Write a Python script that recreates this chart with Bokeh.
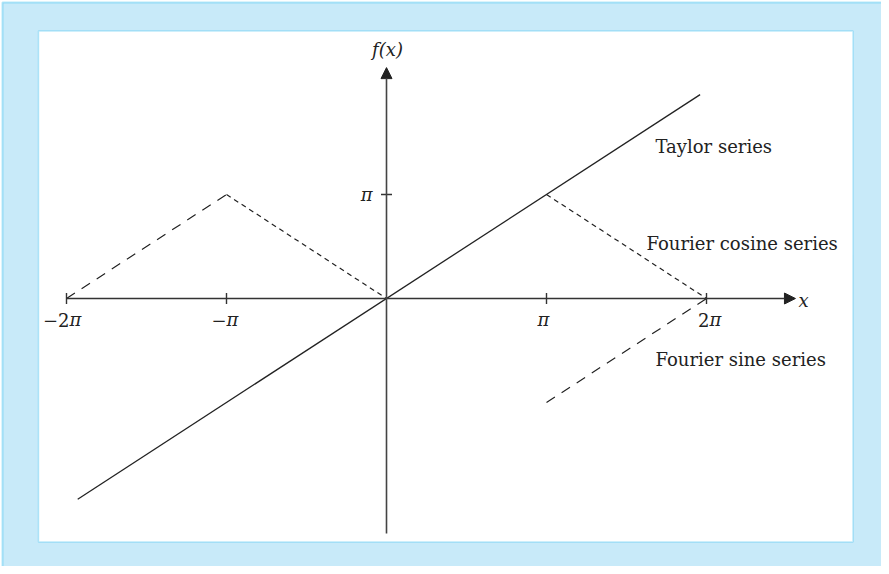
import numpy as np
from bokeh.plotting import figure
from bokeh.models import Range1d, BoxAnnotation, Label, Arrow, NormalHead
from bokeh.embed import file_html
from bokeh.resources import INLINE

PI = np.pi

# ---- data (in multiples of pi) ----
taylor_x = [-1.93, 1.96]
taylor_y = [-1.93, 1.96]
cosine_left_x = [-1.0, 0.0]
cosine_left_y = [1.0, 0.0]
cosine_right_x = [1.0, 2.0]
cosine_right_y = [1.0, 0.0]
sine_left_x = [-2.0, -1.0]
sine_left_y = [0.0, 1.0]
sine_right_x = [1.0, 2.0]
sine_right_y = [-1.0, 0.0]
xtick_vals = [-2.0, -1.0, 1.0, 2.0]
xtick_prefix = ["\u22122", "\u2212", "", "2"]
ytick_vals = [1.0]
axis_x = [-2.0, 2.556]
axis_y = [-2.26, 2.22]

# ---- geometry ----
W, H = 881, 566
OX, OY = 394.0, 306.0        # page position of origin
SX, SY = 160.0, 104.0        # pixels per pi

def dx(px):
    return (px - OX) / SX * PI

def dy(py):
    return (OY - py) / SY * PI

p = figure(width=W, height=H, output_backend="svg", toolbar_location=None,
           x_axis_location=None, y_axis_location=None, min_border=0,
           x_range=Range1d(dx(8), dx(8 + W)), y_range=Range1d(dy(8 + H), dy(8)))
p.grid.visible = False
p.outline_line_color = None
p.background_fill_color = "white"
p.border_fill_color = "white"

BAND = "#c8eaf9"
CYAN = "#12b2ec"
INK = "#222222"

outer = BoxAnnotation(left=dx(10), right=dx(920), top=dy(10), bottom=dy(600),
                      fill_color=BAND, fill_alpha=1, line_color=CYAN, line_width=2,
                      level="underlay")
inner = BoxAnnotation(left=dx(46), right=dx(860.5), top=dy(38.5), bottom=dy(549.5),
                      fill_color="white", fill_alpha=1, line_color="#2cb8ee", line_width=1.5,
                      level="underlay")
p.add_layout(outer)
p.add_layout(inner)

def s(v):
    return [a * PI for a in v]

# axes with arrows
p.add_layout(Arrow(end=NormalHead(size=11, fill_color=INK, line_color=INK, line_width=1),
                   x_start=axis_x[0] * PI, y_start=0, x_end=axis_x[1] * PI, y_end=0,
                   line_color="#333333", line_width=1.5))
p.add_layout(Arrow(end=NormalHead(size=11, fill_color=INK, line_color=INK, line_width=1),
                   x_start=0, y_start=axis_y[0] * PI, x_end=0, y_end=axis_y[1] * PI,
                   line_color="#444444", line_width=1.6))

# ticks
p.scatter(s(xtick_vals), [0] * len(xtick_vals), marker="dash", angle=PI / 2, size=11,
          line_color="#333333", line_width=1.4)
p.scatter([0] * len(ytick_vals), s(ytick_vals), marker="dash", size=11,
          line_color="#333333", line_width=1.4)

# series
p.line(s(taylor_x), s(taylor_y), line_color=INK, line_width=1.3)
p.line(s(cosine_left_x), s(cosine_left_y), line_color=INK, line_width=1.2, line_dash="5 4")
p.line(s(cosine_right_x), s(cosine_right_y), line_color=INK, line_width=1.2, line_dash="5 4")
p.line(s(sine_left_x), s(sine_left_y), line_color=INK, line_width=1.2, line_dash="10 8")
p.line(s(sine_right_x), s(sine_right_y), line_color=INK, line_width=1.2, line_dash="10 8")

SERIF = "DejaVu Serif"
FS = "18px"

def lab(x, y, t, align="left", style="normal", size=FS):
    p.add_layout(Label(x=x, y=y, text=t, text_font=SERIF, text_font_size=size,
                       text_font_style=style, text_align=align, text_baseline="middle",
                       text_color=INK))

# x tick labels
split_off = {-2.0: 3, -1.0: 0, 1.0: None, 2.0: 3}
for v, pre in zip(xtick_vals, xtick_prefix):
    tx = OX + v * SX
    if pre == "":
        lab(dx(tx - 3), dy(327), "\u03c0", align="center", style="italic")
    else:
        sp = tx + split_off[v]
        lab(dx(sp), dy(327), pre, align="right")
        lab(dx(sp), dy(327), "\u03c0", align="left", style="italic")

# y tick label
for v in ytick_vals:
    lab(dx(380), dy(OY - v * SY), "\u03c0", align="right", style="italic")

# axis labels
lab(dx(395), dy(57), "f(x)", align="center", style="italic")
lab(dx(806), dy(308), "x", align="left", style="italic")

# series labels
lab(dx(663), dy(154), "Taylor series")
lab(dx(654), dy(251), "Fourier cosine series")
lab(dx(663), dy(367), "Fourier sine series")

open("out.html", "w").write(file_html(p, INLINE))
